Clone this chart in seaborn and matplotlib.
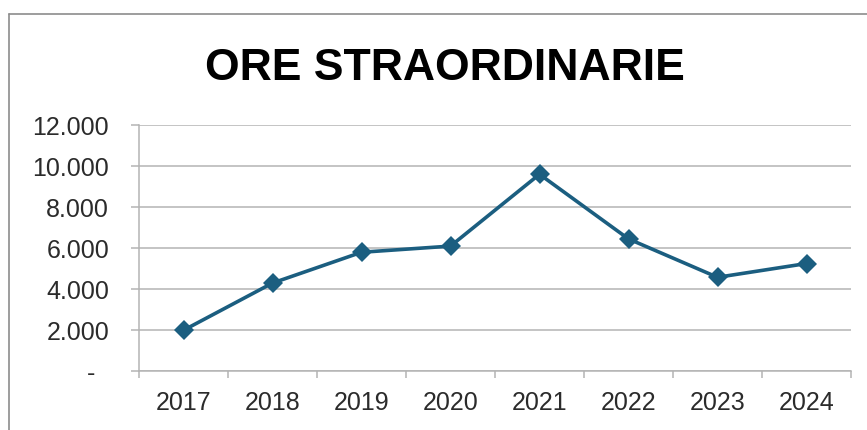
import matplotlib
matplotlib.use("Agg")
import matplotlib.pyplot as plt
import seaborn as sns
import pandas as pd
import numpy as np
from matplotlib.lines import Line2D

# ---- data ----
years = ["2017", "2018", "2019", "2020", "2021", "2022", "2023", "2024"]
hours = [2000, 4300, 5800, 6100, 9600, 6450, 4580, 5250]
y_ticks = [0, 2000, 4000, 6000, 8000, 10000, 12000]
y_tick_labels = ["-  ", "2.000", "4.000", "6.000", "8.000", "10.000", "12.000"]
title = "ORE STRAORDINARIE"

LINE_COLOR = "#1B5E80"
GRID_COLOR = "#B4B4B4"
TEXT_COLOR = "#2B2B2B"

sns.set_theme(style="white")
plt.rcParams["font.family"] = ["Liberation Sans", "DejaVu Sans"]

W, H = 867, 430
fig = plt.figure(figsize=(W / 100, H / 100), dpi=100)
fig.patch.set_facecolor("white")
ax = fig.add_axes([139 / W, (H - 371.3) / H, 712 / W, 246.3 / H])

df = pd.DataFrame({"year": years, "hours": hours})
sns.lineplot(data=df, x="year", y="hours", sort=False, ax=ax,
             color=LINE_COLOR, linewidth=2.6, marker="D", markersize=10,
             markeredgewidth=0)

ax.set_xlim(-0.5, len(years) - 0.5)
ax.set_ylim(0, 12000)
ax.set_yticks(y_ticks)
ax.set_yticklabels(y_tick_labels)
ax.set_xlabel("")
ax.set_ylabel("")

ax.yaxis.grid(True, color=GRID_COLOR, linewidth=1.1)
ax.xaxis.grid(False)
ax.set_axisbelow(True)
for s in ["top", "right"]:
    ax.spines[s].set_visible(False)
for s in ["left", "bottom"]:
    ax.spines[s].set_color(GRID_COLOR)
    ax.spines[s].set_linewidth(1.1)

ax.tick_params(axis="y", length=5.5, width=1.1, color=GRID_COLOR, pad=16,
               labelsize=18, labelcolor=TEXT_COLOR, left=True)
ax.set_xticks(np.arange(-0.5, len(years), 1), minor=True)
ax.tick_params(axis="x", which="major", length=0, pad=14, labelsize=18,
               labelcolor=TEXT_COLOR)
ax.tick_params(axis="x", which="minor", length=5, width=1.1,
               color=GRID_COLOR, bottom=True, direction="out")

fig.text(445 / W, (H - 79.5) / H, title, ha="center", va="baseline",
         fontsize=32, fontweight="bold", color="black",
         family=["Liberation Sans", "DejaVu Sans"])

# outer chart frame (top and left edges visible)
fig.add_artist(Line2D([8.5 / W, 1.0], [1 - 13.5 / H, 1 - 13.5 / H],
                      transform=fig.transFigure, color="#8C8C8C", linewidth=1.2))
fig.add_artist(Line2D([8.5 / W, 8.5 / W], [0.0, 1 - 13.5 / H],
                      transform=fig.transFigure, color="#8C8C8C", linewidth=1.2))

fig.savefig("out.png", dpi=100)
